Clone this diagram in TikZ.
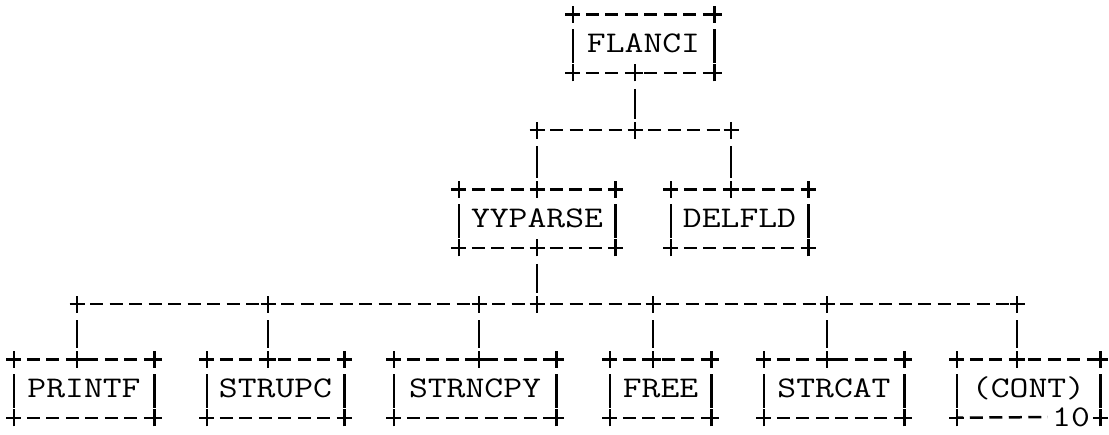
\documentclass[tikz,border=0pt]{standalone}
\usepackage{graphicx}
\usetikzlibrary{calc,positioning}
\newcommand{\wide}[1]{\scalebox{1.22}[1]{#1}}
\tikzset{cross/.pic={\draw[solid] (-7.5pt,0pt) -- (7.5pt,0pt) (0pt,-8.5pt) -- (0pt,8.5pt);}}

\begin{document}
\begin{tikzpicture}[x=1pt,y=-1pt,line width=2.5pt,
  routine/.style={rectangle,inner sep=0pt,minimum height=56pt,text height=18pt,text depth=0pt,font=\ttfamily\fontsize{30}{30}\selectfont},
  pgno/.style={inner sep=0pt,font=\ttfamily\fontsize{30}{30}\selectfont},
  dashline/.style={dash pattern=on 13pt off 6.5pt,dash phase=6.5pt},
  side/.style={shorten <=15pt,shorten >=10pt},
  link/.style={shorten <=16pt,shorten >=11pt}]
  \useasboundingbox (0,0) rectangle (1109,434);

  \node[routine,minimum width=139pt] (flanci) at (643.5,43.5) {\wide{FLANCI}};
  \node[routine,minimum width=154pt] (yyparse) at (537,218.5) {\wide{YYPARSE}};
  \node[routine,minimum width=135pt] (delfld) at (739.5,218.5) {\wide{DELFLD}};
  \node[routine,minimum width=138pt] (printf) at (84,388.5) {\wide{PRINTF}};
  \node[routine,minimum width=135pt] (strupc) at (275.5,388.5) {\wide{STRUPC}};
  \node[routine,minimum width=160pt] (strncpy) at (475,388.5) {\wide{STRNCPY}};
  \node[routine,minimum width=99pt] (free) at (660.5,388.5) {\wide{FREE}};
  \node[routine,minimum width=138pt] (strcat) at (834,388.5) {\wide{STRCAT}};
  \node[routine,minimum width=141pt] (cont) at (1028.5,388.5) {\wide{(CONT)}};
  \node[pgno] (pg) at (1071,417) {\wide{10}};

  \foreach \n in {flanci,yyparse,delfld,printf,strupc,strncpy,free,strcat,cont}{
    \draw[dashline] (\n.north west) -- (\n.north east);
    \draw[side] (\n.north west) -- (\n.south west);
    \draw[side] (\n.north east) -- (\n.south east);
    \pic at (\n.north west) {cross};
    \pic at (\n.north east) {cross};
    \pic at (\n.south west) {cross};
    \pic at (\n.south east) {cross};
  }
  \foreach \n in {flanci,yyparse,delfld,printf,strupc,strncpy,free,strcat}
    \draw[dashline] (\n.south west) -- (\n.south east);
  \draw[dashline,shorten >=3pt] (cont.south west) -- (pg.west);

  % upper level
  \coordinate (t0) at (537,130);
  \coordinate (t1) at (635,130);
  \coordinate (t2) at (731,130);
  \draw[dashline] (t0) -- (t1);
  \draw[dashline] (t1) -- (t2);
  \draw[link] (t1 |- flanci.south) -- (t1);
  \draw[link] (t0) -- (t0 |- yyparse.north);
  \draw[link] (t2) -- (t2 |- delfld.north);
  \foreach \c in {t0,t1,t2} \pic at (\c) {cross};
  \pic at (t1 |- flanci.south) {cross};
  \pic at (t0 |- yyparse.north) {cross};
  \pic at (t2 |- delfld.north) {cross};

  % lower level
  \coordinate (b0) at (77,304);
  \coordinate (b1) at (268,304);
  \coordinate (b2) at (479,304);
  \coordinate (b3) at (537,304);
  \coordinate (b4) at (653,304);
  \coordinate (b5) at (827,304);
  \coordinate (b6) at (1017,304);
  \foreach \a/\b in {b0/b1,b1/b2,b2/b3,b3/b4,b4/b5,b5/b6}
    \draw[dashline] (\a) -- (\b);
  \draw[link] (b3 |- yyparse.south) -- (b3);
  \pic at (b3 |- yyparse.south) {cross};
  \pic at (b3) {cross};
  \foreach \c/\n in {b0/printf,b1/strupc,b2/strncpy,b4/free,b5/strcat,b6/cont}{
    \draw[link] (\c) -- (\c |- \n.north);
    \pic at (\c) {cross};
    \pic at (\c |- \n.north) {cross};
  }
\end{tikzpicture}
\end{document}
